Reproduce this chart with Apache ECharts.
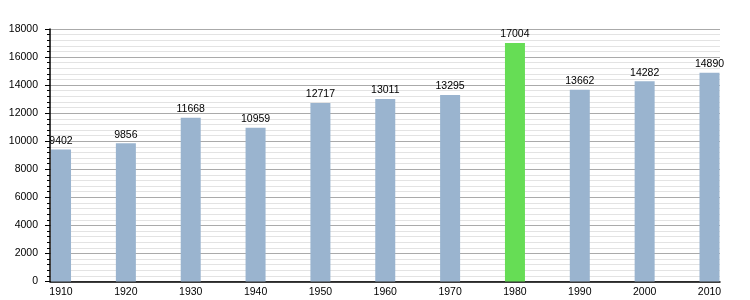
<!DOCTYPE html>
<html>
<head>
<meta charset="utf-8">
<script src="https://cdn.jsdelivr.net/npm/echarts@6/dist/echarts.min.js"></script>
<style>html,body{margin:0;padding:0;background:#fff;}#c{width:750px;height:300px;}</style>
</head>
<body>
<div id="c"></div>
<script>
var years = [1910, 1920, 1930, 1940, 1950, 1960, 1970, 1980, 1990, 2000, 2010];
var population = [9402, 9856, 11668, 10959, 12717, 13011, 13295, 17004, 13662, 14282, 14890];
var highlightYear = 1980;
var yTicks = [0, 2000, 4000, 6000, 8000, 10000, 12000, 14000, 16000, 18000];

var chart = echarts.init(document.getElementById('c'), null, {renderer: 'canvas'});
var data = years.map(function (y, i) {
  return {
    value: [y, population[i]],
    itemStyle: {color: y === highlightYear ? '#66dd55' : '#9ab4cf'}
  };
});
chart.setOption({
  animation: false,
  textStyle: {fontFamily: 'Liberation Sans, Arial, sans-serif'},
  grid: {left: 50, right: 30, top: 29, bottom: 18.5, containLabel: false},
  xAxis: {
    type: 'value',
    min: 1908.3,
    max: 2011.62,
    splitLine: {show: false},
    axisLine: {show: true, lineStyle: {color: '#000', width: 1.5}},
    axisTick: {show: false},
    axisLabel: {
      customValues: years,
      color: '#000',
      fontSize: 10.5,
      margin: 5,
      formatter: function (v) { return String(v); }
    }
  },
  yAxis: {
    type: 'value',
    min: 0,
    max: 18000,
    interval: 2000,
    axisLine: {show: true, lineStyle: {color: '#000', width: 1.5}},
    axisTick: {show: true, length: 5, lineStyle: {color: '#000'}},
    minorTick: {show: true, splitNumber: 5, length: 3, lineStyle: {color: '#000'}},
    splitLine: {show: true, lineStyle: {color: '#aaaaaa', width: 1}},
    minorSplitLine: {show: true, lineStyle: {color: '#e3e3e3', width: 1}},
    axisLabel: {
      customValues: yTicks,
      color: '#000',
      fontSize: 10.5,
      margin: 12,
      formatter: function (v) { return String(v); }
    }
  },
  series: [{
    type: 'bar',
    barWidth: 20,
    data: data,
    label: {
      show: true,
      position: 'top',
      distance: 3,
      color: '#000',
      fontSize: 10.5,
      formatter: function (p) { return String(p.value[1]); }
    }
  }]
});
</script>
</body>
</html>
